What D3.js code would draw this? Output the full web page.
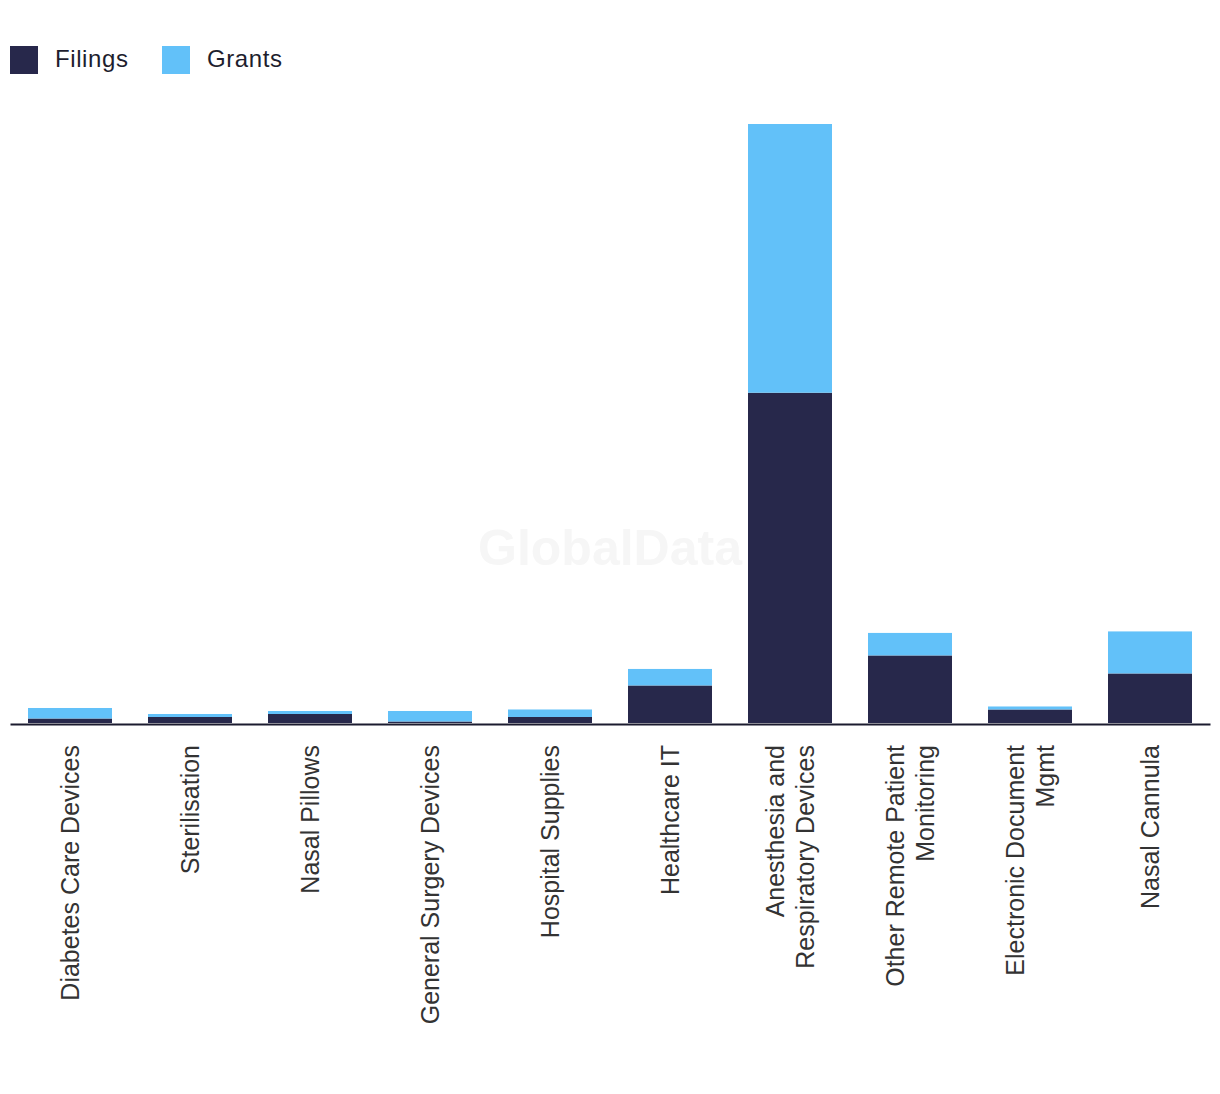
<!DOCTYPE html>
<html>
<head>
<meta charset="utf-8">
<script src="https://cdn.jsdelivr.net/npm/d3@7"></script>
<style>
  html, body { margin: 0; padding: 0; background: #fff; }
  svg { display: block; }
</style>
</head>
<body>
<svg id="chart" width="1220" height="1094"></svg>
<script>
const categories = [
  "Diabetes Care Devices",
  "Sterilisation",
  "Nasal Pillows",
  "General Surgery Devices",
  "Hospital Supplies",
  "Healthcare IT",
  "Anesthesia and|Respiratory Devices",
  "Other Remote Patient|Monitoring",
  "Electronic Document|Mgmt",
  "Nasal Cannula"
];
const filings = [3, 4, 6, 1, 4, 25, 220, 45, 9, 33];
const grants  = [7, 2, 2, 7, 5, 11, 179, 15, 2, 28];
const seriesNames = ["Filings", "Grants"];
const seriesColors = ["#27284b", "#62c1f9"];

const svg = d3.select("#chart");
const baseY = 723, topY = 124;

const rows = categories.map((c, i) => ({ cat: c, Filings: filings[i], Grants: grants[i] }));
const stack = d3.stack().keys(seriesNames)(rows);
const maxTotal = d3.max(rows, d => d.Filings + d.Grants);

const x = d3.scaleBand().domain(categories).range([10, 1210]).paddingInner(0.3).paddingOuter(0.15);
const y = d3.scaleLinear().domain([0, maxTotal]).range([baseY, topY]);
const color = d3.scaleOrdinal().domain(seriesNames).range(seriesColors);

// watermark
svg.append("text")
  .attr("x", 610).attr("y", 565)
  .attr("text-anchor", "middle")
  .attr("font-family", "'Liberation Sans', Arial, sans-serif")
  .attr("font-weight", "bold")
  .attr("font-size", 50)
  .attr("fill", "#f6f6f6")
  .text("GlobalData");

// bars
svg.append("g").selectAll("g").data(stack).join("g")
  .attr("fill", d => color(d.key))
  .selectAll("rect").data(d => d).join("rect")
  .attr("x", d => x(d.data.cat))
  .attr("width", x.bandwidth())
  .attr("y", d => y(d[1]))
  .attr("height", d => y(d[0]) - y(d[1]));

// baseline axis
const xAxis = d3.axisBottom(x).tickSize(0).tickFormat("");
const axisG = svg.append("g").attr("transform", `translate(0,${baseY + 1})`).call(xAxis);
axisG.select(".domain").attr("stroke", "#1b1b2f").attr("stroke-width", 2);

// labels
const labelG = svg.append("g");
categories.forEach(c => {
  const lines = c.split("|");
  const cx = x(c) + x.bandwidth() / 2;
  const lh = 30;
  const t = labelG.append("text")
    .attr("transform", `translate(${cx},745) rotate(-90)`)
    .attr("text-anchor", "end")
    .attr("font-family", "'Liberation Sans', Arial, sans-serif")
    .attr("font-size", 25)
    .attr("fill", "#333333");
  lines.forEach((ln, j) => {
    const off = (j - (lines.length - 1) / 2) * lh;
    t.append("tspan").attr("x", 0).attr("y", off).attr("dy", "0.35em").text(ln);
  });
});

// legend
const legend = svg.append("g");
const legendX = [10, 162];
seriesNames.forEach((s, i) => {
  legend.append("rect").attr("x", legendX[i]).attr("y", 46).attr("width", 28).attr("height", 28).attr("fill", color(s));
  legend.append("text").attr("x", legendX[i] + 45).attr("y", 67)
    .attr("font-family", "'Liberation Sans', Arial, sans-serif")
    .attr("font-size", 24)
    .attr("letter-spacing", 0.6)
    .attr("fill", "#1e1e2e")
    .text(s);
});
</script>
</body>
</html>
